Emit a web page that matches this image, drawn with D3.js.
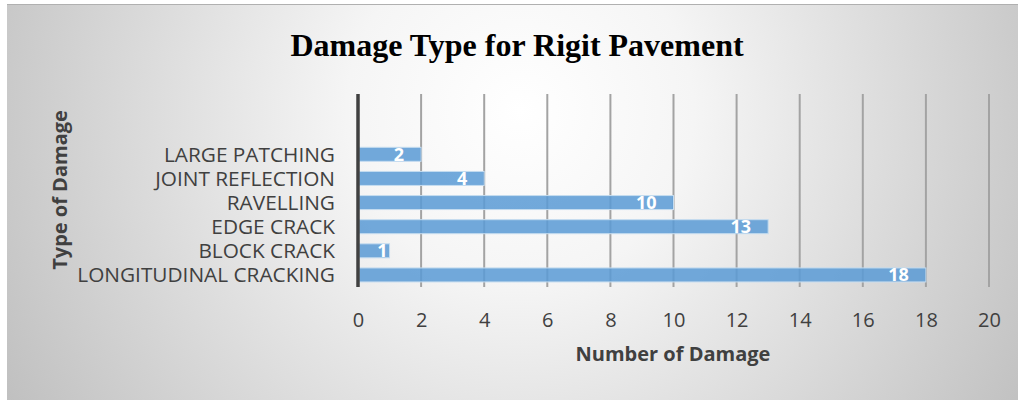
<!DOCTYPE html>
<html>
<head>
<meta charset="utf-8">
<script src="https://cdn.jsdelivr.net/npm/d3@7"></script>
<style>
  html, body { margin: 0; padding: 0; background: #ffffff; }
  svg { display: block; }
</style>
</head>
<body>
<div id="chart"></div>
<script>
// Damage counts per pavement damage type (top to bottom as listed)
const categories = [
  "LARGE PATCHING",
  "JOINT REFLECTION",
  "RAVELLING",
  "EDGE CRACK",
  "BLOCK CRACK",
  "LONGITUDINAL CRACKING"
];
const damageCounts = [2, 4, 10, 13, 1, 18];
const xTicks = [0, 2, 4, 6, 8, 10, 12, 14, 16, 18, 20];
// two empty rows sit above the listed categories
const emptyRows = ["_blank1", "_blank2"];

const W = 1018, H = 400;
const svg = d3.select("#chart").append("svg")
  .attr("width", W).attr("height", H);

const defs = svg.append("defs");
const bg = defs.append("radialGradient")
  .attr("id", "bgGrad")
  .attr("gradientUnits", "userSpaceOnUse")
  .attr("cx", 520).attr("cy", 110).attr("r", 620);
bg.append("stop").attr("offset", "0%").attr("stop-color", "#ffffff");
bg.append("stop").attr("offset", "28%").attr("stop-color", "#f5f5f5");
bg.append("stop").attr("offset", "100%").attr("stop-color", "#bcbcbc");

// chart frame
svg.append("rect")
  .attr("x", 7).attr("y", 4)
  .attr("width", W - 7).attr("height", H - 4)
  .attr("fill", "url(#bgGrad)");
svg.append("line")
  .attr("x1", 7).attr("x2", W).attr("y1", 4.5).attr("y2", 4.5)
  .attr("stroke", "#b0b0b0").attr("stroke-width", 1);

const plot = { left: 358, right: 989, top: 94, bottom: 287 };

const x = d3.scaleLinear().domain([0, 20]).range([plot.left, plot.right]);
const y = d3.scaleBand()
  .domain(emptyRows.concat(categories))
  .range([plot.top, plot.bottom])
  .paddingInner(0.42).paddingOuter(0.21);

const rows = categories.map((c, i) => ({ c, v: damageCounts[i] }));

// vertical gridlines
svg.append("g")
  .selectAll("line")
  .data(xTicks.filter(t => t > 0))
  .join("line")
  .attr("x1", d => x(d)).attr("x2", d => x(d))
  .attr("y1", plot.top).attr("y2", plot.bottom)
  .attr("stroke", "#a3a3a3").attr("stroke-width", 2);

// bars
svg.append("g")
  .selectAll("rect")
  .data(rows)
  .join("rect")
  .attr("x", x(0) + 1)
  .attr("y", d => y(d.c))
  .attr("width", d => x(d.v) - x(0) - 1)
  .attr("height", y.bandwidth())
  .attr("fill", "#5b9bd5").attr("fill-opacity", 0.86)
  .attr("stroke", "#c5dcf0").attr("stroke-width", 1);

// value labels inside the bar end
const labels = svg.append("g")
  .selectAll("text")
  .data(rows)
  .join("text")
  .attr("y", d => y(d.c) + y.bandwidth() / 2)
  .attr("dy", "0.36em")
  .attr("text-anchor", "end")
  .attr("font-family", "'Open Sans', sans-serif")
  .attr("font-weight", "bold")
  .attr("font-size", 18)
  .attr("fill", "#ffffff")
  .text(d => d.v);
labels.each(function (d) {
  const w = this.getComputedTextLength();
  let end = x(d.v) - 17;
  if (end - w < x(0) + 10) end = x(d.v) - 2; // short bars: hug the bar end
  d3.select(this).attr("x", end);
});

// value axis line at zero
svg.append("line")
  .attr("x1", x(0)).attr("x2", x(0))
  .attr("y1", plot.top).attr("y2", plot.bottom)
  .attr("stroke", "#404040").attr("stroke-width", 3.5);

// x tick labels
const xAxis = d3.axisBottom(x).tickValues(xTicks).tickSize(0).tickPadding(0);
const gx = svg.append("g")
  .attr("transform", `translate(0,${plot.bottom})`)
  .call(xAxis);
gx.select(".domain").remove();
gx.selectAll("text")
  .attr("y", 40)
  .attr("dy", 0)
  .attr("font-family", "'Open Sans', sans-serif")
  .attr("font-size", 20)
  .attr("fill", "#404040");

// category labels
const yAxis = d3.axisLeft(y).tickSize(0).tickPadding(0)
  .tickFormat(d => emptyRows.includes(d) ? "" : d);
const gy = svg.append("g")
  .attr("transform", `translate(335,0)`)
  .call(yAxis);
gy.select(".domain").remove();
gy.selectAll("text")
  .attr("x", 0)
  .attr("dy", "0.36em")
  .attr("font-family", "'Open Sans', sans-serif")
  .attr("font-size", 20.8)
  .attr("fill", "#404040");

// titles
svg.append("text")
  .attr("x", 517).attr("y", 56)
  .attr("text-anchor", "middle")
  .attr("font-family", "'Liberation Serif', 'Times New Roman', serif")
  .attr("font-weight", "bold")
  .attr("font-size", 32)
  .attr("fill", "#000000")
  .text("Damage Type for Rigit Pavement");

svg.append("text")
  .attr("x", 673).attr("y", 361)
  .attr("text-anchor", "middle")
  .attr("font-family", "'Open Sans', sans-serif")
  .attr("font-weight", "bold")
  .attr("font-size", 20)
  .attr("fill", "#404040")
  .text("Number of Damage");

svg.append("text")
  .attr("transform", "translate(67,190) rotate(-90)")
  .attr("text-anchor", "middle")
  .attr("font-family", "'Open Sans', sans-serif")
  .attr("font-weight", "bold")
  .attr("font-size", 20)
  .attr("fill", "#404040")
  .text("Type of Damage");
</script>
</body>
</html>
